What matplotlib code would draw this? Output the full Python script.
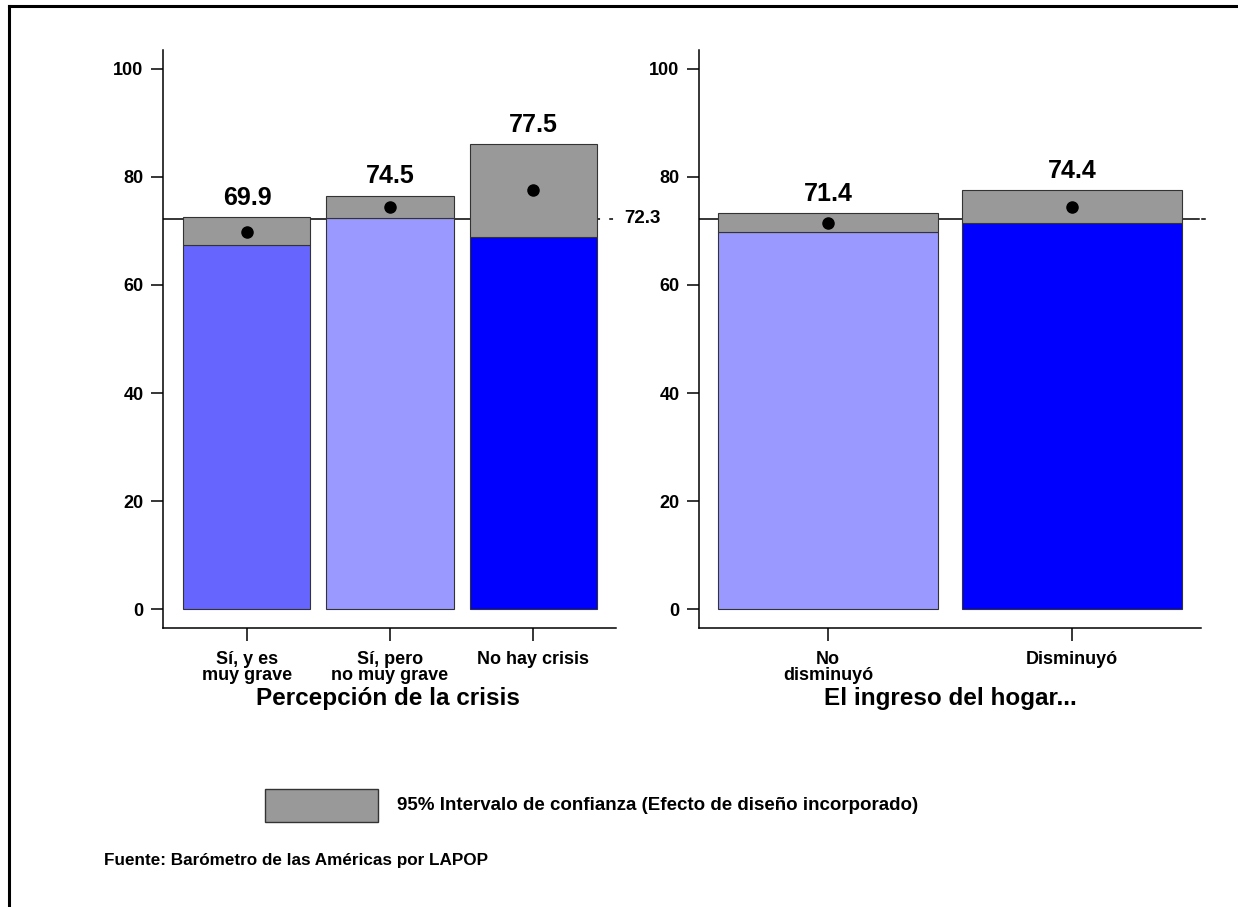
import matplotlib
matplotlib.use('Agg')
import matplotlib.pyplot as plt
from matplotlib.patches import Rectangle
from matplotlib.lines import Line2D

plt.rcParams['font.family'] = ['Liberation Sans', 'DejaVu Sans']
plt.rcParams['font.weight'] = 'bold'

# data
crisis_labels = ['Sí, y es\nmuy grave', 'Sí, pero\nno muy grave', 'No hay crisis']
crisis_mean = [69.9, 74.5, 77.5]
crisis_low = [67.4, 72.35, 68.9]
crisis_high = [72.5, 76.5, 86.05]

ingreso_labels = ['No\ndisminuyó', 'Disminuyó']
ingreso_mean = [71.4, 74.4]
ingreso_low = [69.8, 71.5]
ingreso_high = [73.3, 77.5]

overall_mean = 72.3

crisis_colors = ['#6666ff', '#9999ff', '#0000ff']
ingreso_colors = ['#9999ff', '#0000ff']
ci_color = '#999999'

fig = plt.figure(figsize=(12.38, 9.07), dpi=100)

ax1 = fig.add_axes([163/1238, 1-628/907, 453/1238, 578/907])
ax2 = fig.add_axes([699/1238, 1-628/907, 502/1238, 578/907])


def panel(ax, labels, mean, low, high, colors, width, xlim):
    x = list(range(len(labels)))
    ax.plot([xlim[0], x[-1] + width/2], [overall_mean, overall_mean],
            color='black', lw=1.1, zorder=1)
    ax.bar(x, low, width=width, color=colors, edgecolor='#333333', lw=0.8, zorder=2)
    ax.bar(x, [h - l for h, l in zip(high, low)], bottom=low, width=width,
           color=ci_color, edgecolor='#333333', lw=0.8, zorder=2)
    ax.plot(x, mean, 'o', color='black', markersize=8, zorder=3)
    for xi, m, h in zip(x, mean, high):
        ax.annotate(f'{m:.1f}', (xi, h), xytext=(0, 14), textcoords='offset points',
                    ha='center', va='center', fontsize=18, fontweight='bold')
    ax.set_xlim(*xlim)
    ax.set_ylim(-3.5, 103.5)
    ax.set_xticks(x)
    ax.set_xticklabels(labels, fontsize=13, fontweight='bold', linespacing=0.95)
    ax.set_yticks([0, 20, 40, 60, 80, 100])
    ax.set_yticklabels(['0', '20', '40', '60', '80', '100'], fontsize=13, fontweight='bold')
    ax.tick_params(axis='both', length=9, width=1.1, pad=5)
    ax.tick_params(axis='x', pad=7.5)
    for s in ['top', 'right']:
        ax.spines[s].set_visible(False)
    for s in ['left', 'bottom']:
        ax.spines[s].set_linewidth(1.1)
    return x


x1 = panel(ax1, crisis_labels, crisis_mean, crisis_low, crisis_high, crisis_colors,
           0.888, (-0.587, 2.58))
ax1.plot([x1[-1] + 0.444, 2.58], [overall_mean, overall_mean], color='black',
         lw=1.1, ls=(0.5, (2.5, 6)), clip_on=False, zorder=1)
ax1.text(2.64, overall_mean, f'{overall_mean:.1f}', ha='left', va='center',
         fontsize=13.5, fontweight='bold')

x2 = panel(ax2, ingreso_labels, ingreso_mean, ingreso_low, ingreso_high, ingreso_colors,
           0.9, (-0.529, 1.529))
ax2.plot([1.45, 1.52], [overall_mean, overall_mean], color='black', lw=1.1, zorder=1)
ax2.plot([1.535, 1.545], [overall_mean, overall_mean], color='black', lw=1.1,
         clip_on=False, zorder=1)

fig.text(388/1238, 1-699/907, 'Percepción de la crisis', ha='center', va='center',
         fontsize=17.5, fontweight='bold')
fig.text(950/1238, 1-699/907, 'El ingreso del hogar...', ha='center', va='center',
         fontsize=17.5, fontweight='bold')

# legend
fig.patches.append(Rectangle((265/1238, 1-822/907), 113/1238, 33/907,
                             transform=fig.transFigure, facecolor=ci_color,
                             edgecolor='#333333', lw=1))
fig.text(397/1238, 1-806/907, '95% Intervalo de confianza (Efecto de diseño incorporado)',
         ha='left', va='center', fontsize=13.5, fontweight='bold')

fig.text(104/1238, 1-861/907, 'Fuente: Barómetro de las Américas por LAPOP',
         ha='left', va='center', fontsize=12.3, fontweight='bold')

# figure border (left and top visible)
fig.lines.append(Line2D([9/1238, 9/1238], [0, 1-6/907], transform=fig.transFigure,
                        color='black', lw=2.2))
fig.lines.append(Line2D([9/1238, 1], [1-6/907, 1-6/907], transform=fig.transFigure,
                        color='black', lw=2.2))

fig.savefig('out.png', dpi=100)
